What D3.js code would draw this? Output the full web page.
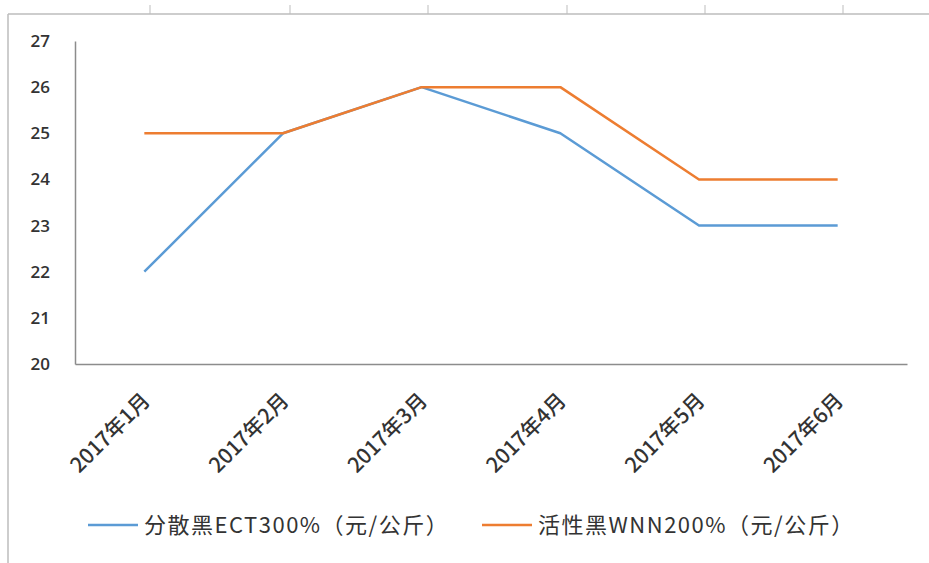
<!DOCTYPE html>
<html>
<head>
<meta charset="utf-8">
<script src="https://cdn.jsdelivr.net/npm/d3@7"></script>
<style>
  body { margin: 0; background: #fff; }
  text { font-family: "Noto Sans CJK SC", "Noto Sans", sans-serif; fill: #333; }
</style>
</head>
<body>
<svg class="chart"></svg>
<script>
// chart values
var months = ["2017年1月", "2017年2月", "2017年3月", "2017年4月", "2017年5月", "2017年6月"];
var ectValues = [22, 25, 26, 25, 23, 23];
var wnnValues = [25, 25, 26, 26, 24, 24];
var seriesNames = ["分散黑ECT300%（元/公斤）", "活性黑WNN200%（元/公斤）"];
var seriesColors = ["#5B9BD5", "#ED7D31"];
var yTicks = [20, 21, 22, 23, 24, 25, 26, 27];

var gwidth = 929, gheight = 563;
var margin = {top: 41, right: 22, bottom: 199, left: 75},
    width = gwidth - margin.left - margin.right,
    height = gheight - margin.top - margin.bottom;

var svg = d3.select(".chart")
  .attr("width", gwidth)
  .attr("height", gheight);

// the spreadsheet frame around the chart (cell borders from the screenshot)
var frame = svg.append("g").attr("stroke", "#bdbdbd").attr("stroke-width", 1.5);
frame.append("line").attr("x1", 8).attr("x2", gwidth).attr("y1", 14).attr("y2", 14);
frame.append("line").attr("x1", 8).attr("x2", 8).attr("y1", 14).attr("y2", gheight);
[150, 290, 428, 567, 705, 843].forEach(function(x){
  frame.append("line").attr("x1", x).attr("x2", x).attr("y1", 5).attr("y2", 14).attr("stroke-width", 1);
});

var chart = svg.append("g")
  .attr("transform", "translate(" + margin.left + "," + margin.top + ")");

var x = d3.scaleBand()
    .domain(months)
    .range([0, width]);
var y = d3.scaleLinear()
    .domain([20, 27])
    .range([height, 0]);

// y axis: plain line with labels, no ticks
var yAxis = d3.axisLeft(y).tickValues(yTicks).tickFormat(d3.format("d")).tickSize(0).tickPadding(25);
var yaxis = chart.append("g").attr("class", "y axis").call(yAxis);
yaxis.select(".domain").attr("stroke", "#8c8c8c").attr("stroke-width", 1.5);
yaxis.selectAll("text")
    .style("font-family", "'Open Sans', sans-serif")
    .style("font-size", "17px")
    .style("font-weight", "600")
    .attr("fill", "#333");

var xAxis = d3.axisBottom(x).tickSize(0).tickPadding(0);
var xaxis = chart.append("g")
    .attr("class", "x axis")
    .attr("transform", "translate(0," + height + ")")
    .call(xAxis);
xaxis.select(".domain").attr("stroke", "#8c8c8c").attr("stroke-width", 1.5);
xaxis.selectAll("text")
    .style("font-size", "21px")
    .style("font-weight", "500")
    .attr("fill", "#333")
    .style("text-anchor", "end")
    .attr("dx", 0)
    .attr("dy", 0)
    .attr("transform", "translate(7,38) rotate(-45)");

var line = d3.line()
    .x(function(d, i){ return x(months[i]) + x.bandwidth() / 2; })
    .y(function(d){ return y(d); });

[ectValues, wnnValues].forEach(function(vals, k){
  chart.append("path")
    .datum(vals)
    .attr("fill", "none")
    .attr("stroke", seriesColors[k])
    .attr("stroke-width", 2.5)
    .attr("stroke-linejoin", "round")
    .attr("d", line);
});

// legend
var legendX = [88, 482];
var legend = svg.selectAll(".legend").data(seriesNames).enter()
  .append("g")
  .attr("class", "legend")
  .attr("transform", function(d, i){ return "translate(" + legendX[i] + ",525)"; });
legend.append("line")
  .attr("x1", 0).attr("x2", 50)
  .attr("stroke", function(d, i){ return seriesColors[i]; })
  .attr("stroke-width", 2.5);
legend.append("text")
  .attr("x", 56)
  .attr("dy", "0.35em")
  .style("font-size", "22px")
  .style("letter-spacing", "1.5px")
  .text(function(d){ return d; });
</script>
</body>
</html>
